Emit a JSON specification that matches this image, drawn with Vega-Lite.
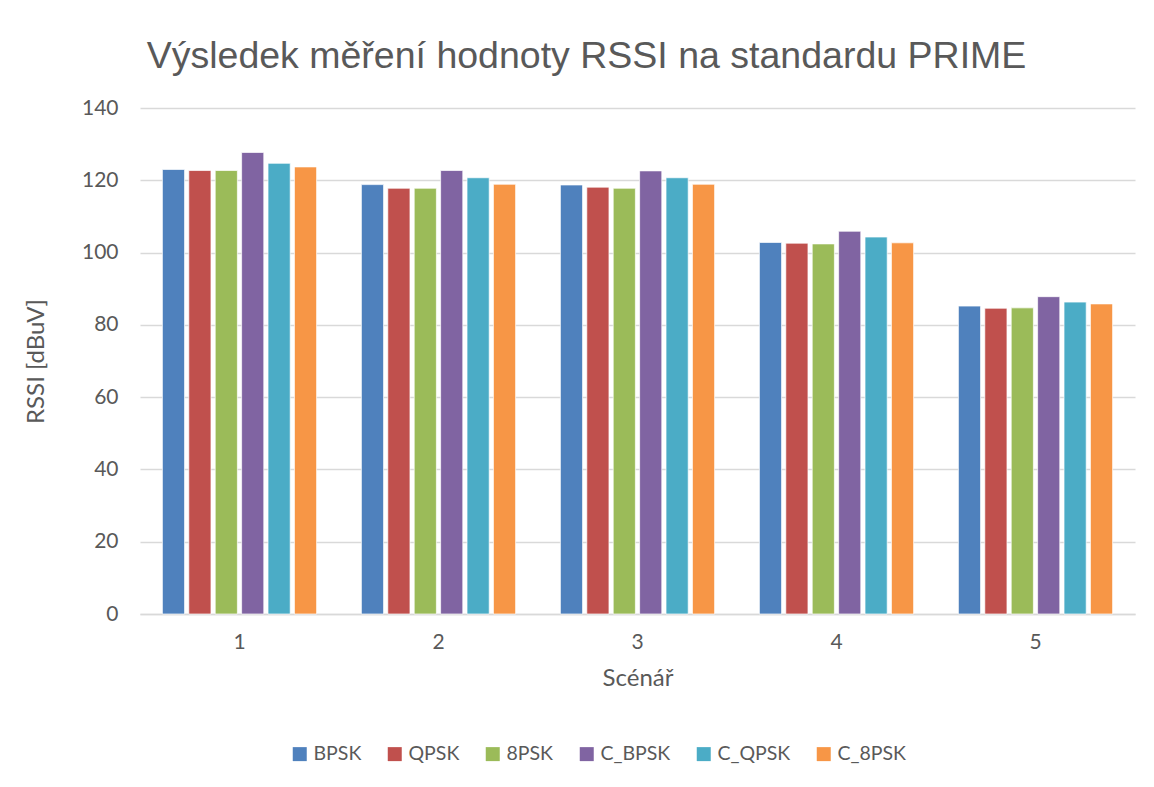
{
  "$schema": "https://vega.github.io/schema/vega-lite/v6.json",
  "width": 995,
  "height": 506,
  "autosize": {"type": "none"},
  "padding": {"left": 140, "top": 108, "right": 19, "bottom": 173},
  "background": "white",
  "title": {
    "text": "Výsledek měření hodnoty RSSI na standardu PRIME",
    "font": "Liberation Sans",
    "fontSize": 37.5,
    "fontWeight": "normal",
    "color": "#595959",
    "anchor": "middle",
    "dx": -51,
    "offset": 22
  },
  "data": {
    "values": [
      {"scenar": "1", "mod": "BPSK", "rssi": 123.0},
      {"scenar": "1", "mod": "QPSK", "rssi": 122.7},
      {"scenar": "1", "mod": "8PSK", "rssi": 122.7},
      {"scenar": "1", "mod": "C_BPSK", "rssi": 127.7},
      {"scenar": "1", "mod": "C_QPSK", "rssi": 124.7},
      {"scenar": "1", "mod": "C_8PSK", "rssi": 123.7},
      {"scenar": "2", "mod": "BPSK", "rssi": 118.8},
      {"scenar": "2", "mod": "QPSK", "rssi": 117.8},
      {"scenar": "2", "mod": "8PSK", "rssi": 117.8},
      {"scenar": "2", "mod": "C_BPSK", "rssi": 122.7},
      {"scenar": "2", "mod": "C_QPSK", "rssi": 120.7},
      {"scenar": "2", "mod": "C_8PSK", "rssi": 118.9},
      {"scenar": "3", "mod": "BPSK", "rssi": 118.7},
      {"scenar": "3", "mod": "QPSK", "rssi": 118.1},
      {"scenar": "3", "mod": "8PSK", "rssi": 117.8},
      {"scenar": "3", "mod": "C_BPSK", "rssi": 122.6},
      {"scenar": "3", "mod": "C_QPSK", "rssi": 120.7},
      {"scenar": "3", "mod": "C_8PSK", "rssi": 118.9},
      {"scenar": "4", "mod": "BPSK", "rssi": 102.8},
      {"scenar": "4", "mod": "QPSK", "rssi": 102.6},
      {"scenar": "4", "mod": "8PSK", "rssi": 102.4},
      {"scenar": "4", "mod": "C_BPSK", "rssi": 105.9},
      {"scenar": "4", "mod": "C_QPSK", "rssi": 104.3},
      {"scenar": "4", "mod": "C_8PSK", "rssi": 102.7},
      {"scenar": "5", "mod": "BPSK", "rssi": 85.2},
      {"scenar": "5", "mod": "QPSK", "rssi": 84.6},
      {"scenar": "5", "mod": "8PSK", "rssi": 84.7},
      {"scenar": "5", "mod": "C_BPSK", "rssi": 87.8},
      {"scenar": "5", "mod": "C_QPSK", "rssi": 86.3},
      {"scenar": "5", "mod": "C_8PSK", "rssi": 85.8}
    ]
  },
  "mark": {"type": "bar", "stroke": "white", "strokeWidth": 1, "strokeOpacity": 0.7},
  "encoding": {
    "x": {
      "field": "scenar",
      "type": "nominal",
      "scale": {"paddingInner": 0.225, "paddingOuter": 0.1125},
      "axis": {
        "title": "Scénář",
        "labelAngle": 0,
        "ticks": false,
        "domain": true,
        "domainColor": "#d9d9d9",
        "domainWidth": 1.5,
        "labelPadding": 17,
        "labelFont": "Lato",
        "labelFontSize": 21,
        "labelColor": "#595959",
        "titleFont": "Lato",
        "titleFontSize": 24,
        "titleFontWeight": "normal",
        "titleColor": "#595959",
        "titlePadding": 14
      }
    },
    "xOffset": {
      "field": "mod",
      "type": "nominal",
      "sort": ["BPSK", "QPSK", "8PSK", "C_BPSK", "C_QPSK", "C_8PSK"],
      "scale": {"paddingInner": 0.16, "paddingOuter": 0}
    },
    "y": {
      "field": "rssi",
      "type": "quantitative",
      "scale": {"domain": [0, 140]},
      "axis": {
        "title": "RSSI [dBuV]",
        "values": [0, 20, 40, 60, 80, 100, 120, 140],
        "ticks": false,
        "domain": false,
        "grid": true,
        "gridColor": "#d9d9d9",
        "gridWidth": 1.5,
        "labelPadding": 22,
        "labelFont": "Lato",
        "labelFontSize": 21,
        "labelColor": "#595959",
        "titleFont": "Lato",
        "titleFontSize": 24,
        "titleFontWeight": "normal",
        "titleColor": "#595959",
        "titlePadding": 33
      }
    },
    "color": {
      "field": "mod",
      "type": "nominal",
      "sort": ["BPSK", "QPSK", "8PSK", "C_BPSK", "C_QPSK", "C_8PSK"],
      "scale": {
        "domain": ["BPSK", "QPSK", "8PSK", "C_BPSK", "C_QPSK", "C_8PSK"],
        "range": ["#4F81BD", "#C0504D", "#9BBB59", "#8064A2", "#4BACC6", "#F79646"]
      },
      "legend": {
        "title": null,
        "orient": "none",
        "direction": "horizontal",
        "legendX": 150,
        "legendY": 636,
        "symbolType": "square",
        "symbolSize": 196,
        "symbolStrokeWidth": 0,
        "labelFont": "Lato",
        "labelFontSize": 19.5,
        "labelColor": "#595959",
        "labelOffset": 4,
        "columnPadding": 23
      }
    }
  },
  "config": {
    "view": {"stroke": null}
  }
}
